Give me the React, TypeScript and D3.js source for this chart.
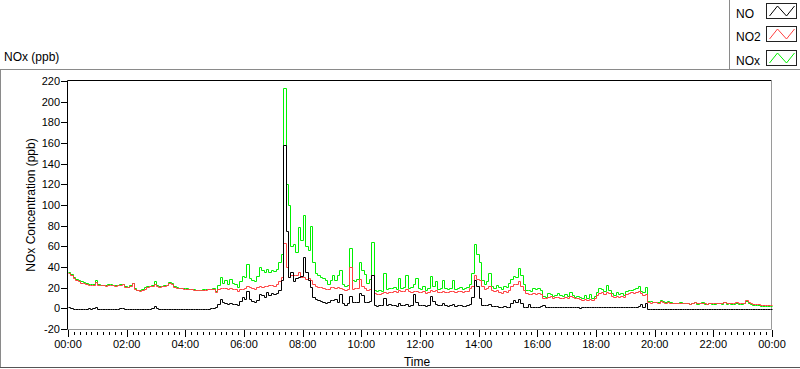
import * as d3 from "d3";
import React, { useEffect, useRef } from "react";

// 5-minute samples, 00:00 .. 24:00 (one row per hour)
const no = [
  1.6, 0.5, -0.5, -0.8, -0.5, -0.8, -0.6, -0.5, 0, -0.6, 0.5, 1.2,
  -0.5, -0.8, -0.5, -0.6, -0.5, -0.8, -0.3, -0.6, -0.6, 0, 0.3, -0.5,
  -0.5, -0.3, -0.8, -0.5, -0.8, -0.6, -0.3, -0.5, -0.6, -0.5, 0.5, 1.8,
  0, -0.5, -0.3, -0.5, -0.5, -0.6, -0.5, -0.6, -1, -1, -1, -1,
  -1, -1, -1, -1, -0.5, -0.3, -0.5, -0.5, -0.3, -0.3, 0, 0,
  1, 4, 9, 6, 5, 4.5, 5, 4, 4, 3, 7, 11,
  9, 17, 9, 7, 6, 8, 14, 13, 11, 16, 13, 15,
  14, 15, 18, 27, 158, 75, 30, 35, 26, 29, 30, 31,
  50, 35, 27, 21, 11, 9, 8, 7, 6, 5, 6, 8,
  8, 9, 6, 14, 5, 3, 5, 12, 6, 6, 6, 15,
  13, 6, 6, 7, 32, 3, 2, 3, 3, 10, 3, 4,
  3, 3, 2, 5, 3, 3, 4, 2, 3, 14, 6, 3,
  3, 3, 2, 3, 12, 7, 4, 3, 3, 5, 3, 2,
  3, 4, 2, 3, 3, 2, 2, 3, 4, 11, 27, 22,
  10, 3, 3, 3, 4, 2, 2, 2, 1.5, 1.5, 2, 1.5,
  1.5, 5, 8, 6, 9, 5.5, 1.5, 1.5, 4, 1.5, 1.5, 1.5,
  1.5, 2, 3, 1, 1.5, 1, 1.5, 1, 1, 1.5, 1, 1,
  1, 1.5, 1, 1, 1, 0.5, 1, 1, 1, 1.5, 1, 1,
  1, 1.5, 1, 1, 1, 1.5, 1, 1, 1, 1, 1, 1.5,
  1.5, 1, 1, 1.5, 1, 2, 4, 1.5, 5, -0.5, -0.5, -0.5,
  -0.5, -0.5, -0.5, -0.3, -0.5, -0.5, -0.8, -0.5, -0.5, -0.8, -0.5, -0.5,
  -0.5, -0.8, -0.5, -0.5, -1, -0.8, -0.5, -0.5, -0.8, -0.8, -0.5, -0.8,
  -0.8, -0.5, -0.8, -1, -0.8, -0.8, -0.5, -0.8, -1, -0.8, -0.8, -1,
  -0.8, -0.5, -1, -1, -0.8, -1, -1, -0.8, -1, -1, -1, -1,
  -1,
];

const no2 = [
  34, 32, 29, 27, 26, 25, 24.5, 23.5, 23, 22.5, 23, 25.5,
  23, 22.5, 22.5, 22, 23, 23, 22.5, 22, 22.5, 23, 23.5, 21,
  20.5, 22, 24.5, 19, 17.5, 17, 18, 19, 21, 21.5, 22, 24,
  22, 21, 21.5, 22, 22.5, 24.5, 24, 21, 20, 19.5, 19.5, 19,
  19, 18.5, 18.5, 18, 17.5, 17.5, 17.5, 18, 18, 18.5, 18.5, 19,
  16, 19, 19.5, 19.5, 19.5, 19, 19.5, 19, 18.5, 17, 19, 19,
  20, 22, 21, 20, 19, 21, 22, 21, 22, 22, 23, 23,
  22, 24, 26, 30, 63, 40, 30, 32, 32, 32, 35, 30,
  30, 28, 29, 27, 24, 22, 21, 21, 20, 19, 19, 21,
  21, 20, 21, 20, 19, 18, 19, 40, 19, 20, 20, 28,
  22, 20, 18, 19, 32, 15, 14, 14, 15, 16, 15, 16,
  16, 17, 16, 18, 17, 17, 19, 17, 16, 17, 17, 16,
  16, 17, 15, 16, 18, 17, 18, 16, 16, 17, 16, 16,
  17, 17, 16, 17, 17, 16, 17, 17, 20, 22, 32, 28,
  27, 22, 19, 20, 22, 18, 17, 18, 16, 15, 17, 16,
  18, 22, 24, 24, 26, 22, 18, 15, 14, 14, 15, 14,
  15, 14, 10, 10, 11, 12, 10, 11, 11, 10, 10, 11,
  10, 12, 11, 10, 10, 9, 8.5, 9, 8, 9, 8.5, 10,
  13, 15, 16, 14, 16, 15, 12, 11, 12, 11, 12, 11,
  14, 15, 16, 15, 16, 17, 15, 13, 14, 6, 5.5, 6,
  6, 5.5, 7, 6, 5.5, 6, 5.5, 5, 5, 5, 5.5, 5,
  5, 5.5, 4.5, 5, 6, 5, 5, 5.5, 5, 4.5, 5, 5,
  5, 5, 5.5, 5, 6, 5, 5.5, 5, 5, 6, 5, 5,
  5.5, 8, 6, 5, 4, 4, 4, 3.5, 3.5, 3.5, 3, 3,
  3,
];

const nox = [
  35, 33, 30, 28, 27, 26, 25.5, 24.5, 23.5, 23.5, 24, 27,
  23.5, 23, 23, 23, 23.5, 23.5, 23, 23, 23, 23.5, 24, 22,
  21, 23, 25, 20, 17.5, 17.5, 19, 21, 21.5, 22, 23, 26,
  22.5, 21.5, 22, 22.5, 23, 25.5, 24.5, 21.5, 20.5, 20, 20, 19.5,
  19.5, 19, 19, 18.5, 18, 18, 18, 18.5, 18.5, 19, 19, 19.5,
  17, 23, 30, 25, 27, 24, 28, 25, 24, 21, 26, 31,
  30, 43, 29, 27, 26, 31, 40, 37, 35, 38, 35, 37,
  36, 38, 45, 53, 213, 120, 100, 60, 62, 55, 79, 66,
  90, 60, 56, 80, 45, 34, 32, 30, 29, 27, 24, 27,
  32, 27, 32, 37, 24, 22, 23, 58, 27, 26, 28, 45,
  37, 33, 25, 28, 64, 18, 17, 18, 17, 34, 19, 20,
  20, 21, 19, 29, 20, 21, 32, 20, 21, 24, 29, 20,
  19, 22, 18, 20, 31, 22, 26, 19, 20, 27, 20, 19,
  20, 27, 19, 20, 21, 19, 20, 21, 24, 34, 62, 53,
  45, 27, 24, 26, 34, 22, 20, 23, 21, 19, 22, 21,
  25, 28, 31, 30, 39, 32, 24, 18, 18, 17, 20, 19,
  20, 18, 12, 11, 15, 14, 12, 13, 15, 13, 12, 14,
  12, 16, 13, 11, 12, 11, 10, 13, 10, 14, 10, 12,
  16, 20, 19, 17, 23, 18, 15, 13, 16, 14, 15, 13,
  17, 18, 18, 19, 20, 22, 17, 16, 21, 7, 7, 6.5,
  6.5, 6, 8, 7, 6, 7, 6, 5.5, 5.5, 5.5, 6, 5.5,
  5, 5.5, 4, 5, 6.5, 4.5, 5, 6, 4.5, 4, 5, 4.5,
  4.5, 5, 5, 4, 6, 4.5, 5.5, 4.5, 4, 5.5, 4.5, 4,
  5, 7.5, 5, 4, 3, 3, 3, 2.5, 2.5, 2.5, 2, 2,
  2,
];

const sampleMinutes = 5;
const yTicks = [-20, 0, 20, 40, 60, 80, 100, 120, 140, 160, 180, 200, 220];
const xTickHours = [0, 2, 4, 6, 8, 10, 12, 14, 16, 18, 20, 22, 24];
const legendNames = ["NO", "NO2", "NOx"];
const legendColors = ["#000000", "#ff4040", "#00f000"];

const font = "'Liberation Sans', Arial, sans-serif";

const App: React.FC = () => {
  const ref = useRef<SVGSVGElement>(null);

  useEffect(() => {
    if (!ref.current) return;
    const svg = d3.select(ref.current);
    svg.selectAll("*").remove();

    const left = 68;
    const right = 772;
    const top = 81;
    const bottom = 329;

    const x = d3.scaleLinear().domain([0, 24 * 60]).range([left, right]);
    const y = d3.scaleLinear().domain([-20, 220]).range([bottom, top]);

    svg.append("rect").attr("width", 800).attr("height", 369).attr("fill", "#fff");

    // outer panel lines
    const frame = "#8a8a8a";
    svg.append("line").attr("x1", 0).attr("x2", 800).attr("y1", 69.5).attr("y2", 69.5).attr("stroke", frame);
    svg.append("line").attr("x1", 729.5).attr("x2", 729.5).attr("y1", 0).attr("y2", 69.5).attr("stroke", frame);
    svg.append("line").attr("x1", 0.5).attr("x2", 0.5).attr("y1", 69.5).attr("y2", 368).attr("stroke", frame);
    svg.append("line").attr("x1", 0).attr("x2", 800).attr("y1", 367.5).attr("y2", 367.5).attr("stroke", "#555");

    // title
    svg
      .append("text")
      .attr("x", 4)
      .attr("y", 61)
      .style("font-family", font)
      .style("font-size", "12px")
      .text("NOx (ppb)");

    // legend
    const legend = svg.append("g");
    legendNames.forEach((name, i) => {
      const ty = 3.5 + Math.round(i * 23.4);
      legend
        .append("text")
        .attr("x", 736)
        .attr("y", ty + 14.5)
        .style("font-family", font)
        .style("font-size", "12px")
        .text(name);
      legend
        .append("rect")
        .attr("x", 766.5)
        .attr("y", ty)
        .attr("width", 30)
        .attr("height", 15)
        .attr("fill", "#fff")
        .attr("stroke", "#222");
      legend
        .append("polyline")
        .attr(
          "points",
          [
            [766.5 + 3, ty + 12.5],
            [766.5 + 11, ty + 2.5],
            [766.5 + 20, ty + 12.5],
            [766.5 + 28, ty + 2.5],
          ]
            .map((p) => p.join(","))
            .join(" ")
        )
        .attr("fill", "none")
        .attr("stroke", legendColors[i]);
    });

    // plot frame
    svg.append("line").attr("x1", left - 0.5).attr("x2", right - 0.5).attr("y1", top - 0.5).attr("y2", top - 0.5).attr("stroke", "#000");
    svg.append("line").attr("x1", right - 0.5).attr("x2", right - 0.5).attr("y1", top - 0.5).attr("y2", bottom + 0.5).attr("stroke", "#9a9a9a");
    svg.append("line").attr("x1", left - 0.5).attr("x2", right - 0.5).attr("y1", bottom + 0.5).attr("y2", bottom + 0.5).attr("stroke", "#9a9a9a");
    svg.append("line").attr("x1", left - 0.5).attr("x2", left - 0.5).attr("y1", top - 0.5).attr("y2", bottom + 0.5).attr("stroke", "#000");

    // y ticks
    const yAxis = svg.append("g");
    yTicks.forEach((t) => {
      const py = Math.round(y(t)) + 0.5;
      yAxis.append("line").attr("x1", 61).attr("x2", left - 1).attr("y1", py).attr("y2", py).attr("stroke", "#000");
      yAxis
        .append("text")
        .attr("x", 60)
        .attr("y", py)
        .attr("dy", "0.35em")
        .attr("text-anchor", "end")
        .style("font-family", font)
        .style("font-size", "11px")
        .text(t);
    });

    svg
      .append("text")
      .attr("transform", `translate(35, ${(top + bottom) / 2}) rotate(-90)`)
      .attr("text-anchor", "middle")
      .style("font-family", font)
      .style("font-size", "12px")
      .text("NOx Concentration (ppb)");

    // x ticks: major every 2 h, minor every 12 min
    const xAxis = svg.append("g");
    d3.range(0, 24 * 60 + 1, 12).forEach((m) => {
      const px = Math.round(x(m)) + 0.5;
      const major = m % 120 === 0;
      xAxis
        .append("line")
        .attr("x1", px)
        .attr("x2", px)
        .attr("y1", major ? bottom + 1 : bottom + 3)
        .attr("y2", major ? bottom + 8 : bottom + 6)
        .attr("stroke", "#000");
    });
    xTickHours.forEach((h) => {
      xAxis
        .append("text")
        .attr("x", x(h * 60))
        .attr("y", 348)
        .attr("text-anchor", "middle")
        .style("font-family", font)
        .style("font-size", "11px")
        .text(`${String(h % 24).padStart(2, "0")}:00`);
    });

    svg
      .append("text")
      .attr("x", 417)
      .attr("y", 366)
      .attr("text-anchor", "middle")
      .style("font-family", font)
      .style("font-size", "12px")
      .text("Time");

    // series, NOx underneath, NO on top; snapped to pixel centres
    const line = d3
      .line<number>()
      .x((_, i) => Math.round(x(i * sampleMinutes)) + 0.5)
      .y((d) => Math.round(y(d)) + 0.5)
      .curve(d3.curveStepAfter);

    const plot = svg.append("g");
    [
      { values: nox, color: legendColors[2] },
      { values: no2, color: legendColors[1] },
      { values: no, color: legendColors[0] },
    ].forEach((s) => {
      plot
        .append("path")
        .attr("d", line(s.values))
        .attr("fill", "none")
        .attr("stroke", s.color)
        .attr("stroke-width", 1);
    });
  }, []);

  return (
    <svg
      ref={ref}
      width={800}
      height={369}
      style={{ position: "absolute", left: 0, top: 0, display: "block" }}
    ></svg>
  );
};

export default App;
